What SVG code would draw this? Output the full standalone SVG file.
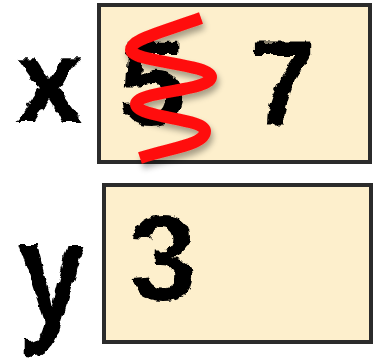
<svg xmlns="http://www.w3.org/2000/svg" width="381" height="360" viewBox="0 0 381 360">
<defs>
<filter id="rough" x="-20%" y="-20%" width="140%" height="140%">
<feTurbulence type="fractalNoise" baseFrequency="0.12" numOctaves="2" seed="3" result="n"/>
<feDisplacementMap in="SourceGraphic" in2="n" scale="7" xChannelSelector="R" yChannelSelector="G"/>
</filter>
<filter id="shadow" x="-30%" y="-20%" width="160%" height="150%">
<feGaussianBlur in="SourceAlpha" stdDeviation="3"/>
<feOffset dx="2" dy="5" result="b"/>
<feComponentTransfer><feFuncA type="linear" slope="0.35"/></feComponentTransfer>
<feMerge><feMergeNode/><feMergeNode in="SourceGraphic"/></feMerge>
</filter>
</defs>
<style>
.box{fill:#fdefcc;stroke:#2b2b2b;stroke-width:4}
.hand{font-family:"Liberation Sans",Arial,sans-serif;font-weight:bold;font-size:120px;fill:#000;text-anchor:middle;filter:url(#rough)}
.cross{fill:none;stroke:#ff0d0d;stroke-width:12;stroke-linecap:butt}
</style>
<g id="var-x">
<rect class="box" x="99" y="5" width="271" height="157"/>
<text class="hand" x="49" y="122">x</text>
<text class="hand" x="152" y="125">5</text>
<text class="hand" x="283" y="124">7</text>
<path class="cross" filter="url(#shadow)" d="M201,18 C150,36 131,40 131,50 C131,62 211,64 211,77 C211,91 136,91 136,104 C136,118 205,118 205,131 C205,145 170,148 140,158"/>
</g>
<g id="var-y">
<rect class="box" x="104" y="185" width="267" height="157"/>
<text class="hand" x="163" y="300">3</text>
<text class="hand" x="52" y="0" transform="translate(0,325) scale(1,1.25)">y</text>
</g>
</svg>
